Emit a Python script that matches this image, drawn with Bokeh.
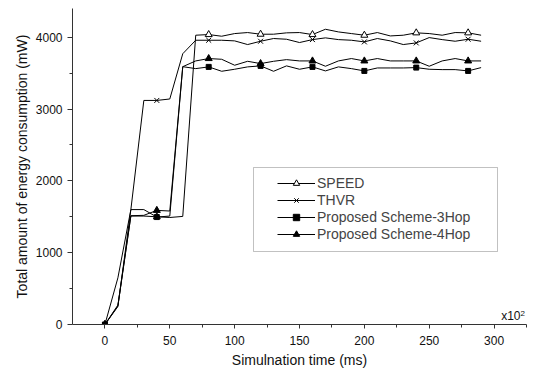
from bokeh.plotting import figure
from bokeh.models import Range1d, FixedTicker, Legend, LegendItem, BoxAnnotation, Label
from bokeh.embed import file_html
from bokeh.resources import INLINE

# ---- data ----
time_x = [0, 10, 20, 30, 40, 50, 60, 70, 80, 90, 100, 110, 120, 130, 140, 150,
          160, 170, 180, 190, 200, 210, 220, 230, 240, 250, 260, 270, 280, 290]
speed = [0, 260, 1510, 1510, 1500, 1490, 1505, 4028, 4037, 4014, 4051, 4065, 4042, 4042, 4061,
         4065, 4037, 4111, 4074, 4051, 4028, 4065, 4018, 4028, 4061, 4051, 4028, 4065, 4061, 4028]
thvr = [0, 650, 1600, 3120, 3120, 3140, 3770, 3958, 3958, 3958, 3949, 3898, 3944, 3982, 3972,
        3926, 3967, 3991, 3967, 3958, 3935, 3982, 3949, 3898, 3921, 3995, 3967, 3944, 3972, 3944]
hop3 = [0, 250, 1600, 1600, 1496, 1510, 3590, 3563, 3587, 3526, 3554, 3587, 3601, 3526, 3601,
        3554, 3587, 3531, 3587, 3563, 3531, 3572, 3572, 3572, 3577, 3554, 3549, 3549, 3531, 3577]
hop4 = [0, 270, 1515, 1520, 1589, 1580, 3590, 3670, 3703, 3693, 3610, 3665, 3633, 3665, 3688,
        3670, 3670, 3596, 3670, 3703, 3670, 3703, 3670, 3670, 3670, 3596, 3670, 3703, 3670, 3670]
series_names = ["SPEED", "THVR", "Proposed Scheme-3Hop", "Proposed Scheme-4Hop"]
x_ticks = [0, 50, 100, 150, 200, 250, 300]
x_minor = [25, 75, 125, 175, 225, 275, 325]
y_ticks = [0, 1000, 2000, 3000, 4000]
y_minor = [500, 1500, 2500, 3500]

X0, X1 = -25, 325
Y0, Y1 = 0, 4400
FONT = "Liberation Sans"

p = figure(width=534, height=372, output_backend="svg", toolbar_location=None,
           x_range=Range1d(X0, X1), y_range=Range1d(Y0, Y1),
           min_border_left=72, min_border_right=8, min_border_top=8, min_border_bottom=48)
p.outline_line_color = None
p.xgrid.visible = False
p.ygrid.visible = False

for ax in (p.xaxis[0], p.yaxis[0]):
    ax.axis_line_color = "#333333"
    ax.major_tick_line_color = "#333333"
    ax.minor_tick_line_color = "#333333"
    ax.major_tick_in = 0
    ax.minor_tick_in = 0
    ax.major_label_text_font = FONT
    ax.major_label_text_font_size = "12px"
    ax.major_label_text_color = "#111111"
    ax.axis_label_text_font = FONT
    ax.axis_label_text_font_size = "14px"
    ax.axis_label_text_font_style = "normal"
    ax.axis_label_text_color = "#111111"

p.xaxis.ticker = FixedTicker(ticks=x_ticks, minor_ticks=x_minor)
p.yaxis.ticker = FixedTicker(ticks=y_ticks, minor_ticks=y_minor)
p.xaxis.major_tick_out = 4
p.xaxis.minor_tick_out = 3
p.yaxis.major_tick_out = 5
p.yaxis.minor_tick_out = 3
p.xaxis.major_label_standoff = 7
p.yaxis.major_label_standoff = 5
p.xaxis.axis_label = "Simulnation time (ms)"
p.yaxis.axis_label = "Total amount of energy consumption (mW)"
p.xaxis.axis_label_standoff = 4
p.yaxis.axis_label_standoff = 3

mx = time_x[::4]
items = []
styles = [
    (speed, dict(marker="triangle", size=7, fill_color="white", line_color="black")),
    (thvr, dict(marker="x", size=7, line_color="black")),
    (hop3, dict(marker="square", size=5, fill_color="black", line_color="black")),
    (hop4, dict(marker="triangle", size=7, fill_color="black", line_color="black")),
]
for name, (ys, st) in zip(series_names, styles):
    ln = p.line(time_x, ys, line_color="black", line_width=1)
    sc = p.scatter(mx, ys[::4], **st)
    items.append(LegendItem(label=name, renderers=[ln, sc]))

legend = Legend(items=items, location=(205, 82), padding=0, spacing=1, margin=0,
                glyph_width=38, glyph_height=16, label_height=16, label_standoff=2,
                label_text_font=FONT, label_text_font_size="14px",
                border_line_alpha=0, background_fill_alpha=0)
p.add_layout(legend)

# legend frame, positioned relative to the plot frame
FW, FH = 454.0, 316.0
bx0, bx1, by0, by1 = 181, 425, 73, 157
box = BoxAnnotation(left=X0 + bx0 / FW * (X1 - X0), right=X0 + bx1 / FW * (X1 - X0),
                    bottom=Y0 + by0 / FH * (Y1 - Y0), top=Y0 + by1 / FH * (Y1 - Y0),
                    fill_alpha=0, line_color="#333333", line_width=1)
p.add_layout(box)

p.add_layout(Label(x=X1, y=0, text="x10", text_align="right", text_baseline="bottom",
                   x_offset=-6, y_offset=2, text_font=FONT, text_font_size="12px",
                   text_color="#111111"))
p.add_layout(Label(x=X1, y=0, text="2", text_align="left", text_baseline="bottom",
                   x_offset=-6, y_offset=9, text_font=FONT, text_font_size="8px",
                   text_color="#111111"))

open("out.html", "w").write(file_html(p, INLINE))
